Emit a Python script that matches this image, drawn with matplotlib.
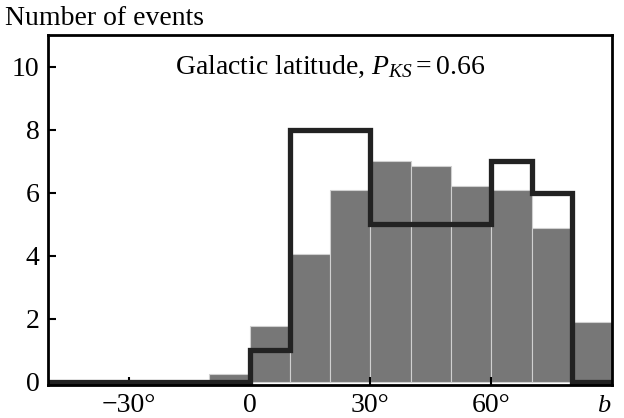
import matplotlib
matplotlib.use("Agg")
import matplotlib.pyplot as plt
import numpy as np

# gray histogram (10 deg bins)
bar_edges = [-10, 0, 10, 20, 30, 40, 50, 60, 70, 80]
bar_counts = [0.25, 1.77, 4.05, 6.08, 7.0, 6.85, 6.22, 6.1, 4.88, 1.9]

# black outline histogram
step_edges = [-50, 0, 10, 30, 60, 70, 80, 90]
step_counts = [0, 1, 8, 5, 7, 6, 0]

xticks = [-30, 0, 30, 60]
xtick_labels = ["\u221230\u00b0", "0", "30\u00b0", "60\u00b0"]
yticks = [0, 2, 4, 6, 8, 10]

plt.rcParams['font.family'] = ['Liberation Serif', 'DejaVu Serif']
plt.rcParams['mathtext.fontset'] = 'custom'
plt.rcParams['mathtext.rm'] = 'Liberation Serif'
plt.rcParams['mathtext.it'] = 'Liberation Serif:italic'

fig = plt.figure(figsize=(6.24, 4.18), dpi=100)
ax = fig.add_axes([0.077, 0.079, 0.904, 0.837])

ax.bar(bar_edges, bar_counts, width=10, align='edge', color='#777777',
       edgecolor='#d0d0d0', linewidth=0.8, zorder=1)
ax.stairs(step_counts, step_edges, color='#222222', linewidth=3.8, zorder=2)

ax.set_xlim(-50, 90)
ax.set_ylim(-0.1, 11)
ax.set_xticks(xticks)
ax.set_xticklabels(xtick_labels)
ax.set_yticks(yticks)
ax.tick_params(direction='in', length=6, width=1.5, labelsize=20, pad=6)
for s in ax.spines.values():
    s.set_linewidth(2)

ax.text(0.5, 0.91, r"Galactic latitude, $P_{KS} = 0.66$", transform=ax.transAxes,
        ha='center', va='center', fontsize=20)
fig.text(0.008, 0.955, "Number of events", ha='left', va='center', fontsize=20)
ax.text(0.985, -0.06, "b", transform=ax.transAxes, ha='center', va='center',
        fontsize=19, style='italic')

fig.savefig("out.png", dpi=100)
